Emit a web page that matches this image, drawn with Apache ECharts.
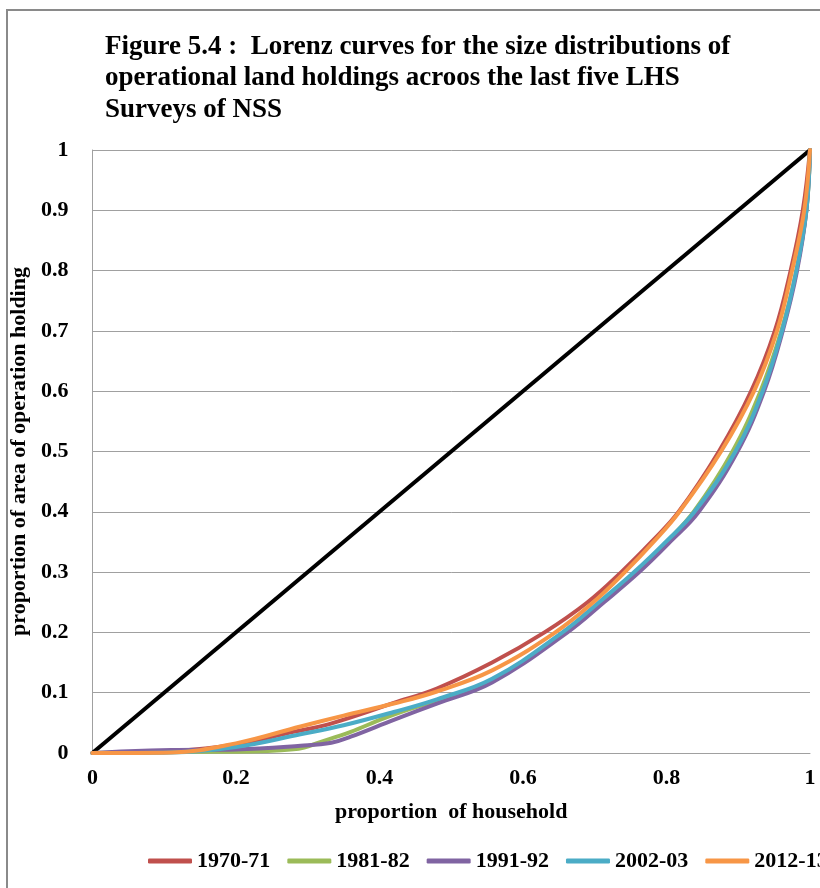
<!DOCTYPE html>
<html>
<head>
<meta charset="utf-8">
<script src="https://cdn.jsdelivr.net/npm/echarts@6/dist/echarts.min.js"></script>
<style>
html,body{margin:0;padding:0;overflow:hidden;background:#fff;}
#c{width:860px;height:888px;}
</style>
</head>
<body>
<div id="c"></div>
<script>
const titleText = 'Figure 5.4 :  Lorenz curves for the size distributions of\noperational land holdings acroos the last five LHS\nSurveys of NSS';
const xAxisName = 'proportion  of household';
const yAxisName = 'proportion of area of operation holding';
const seriesNames = ['1970-71', '1981-82', '1991-92', '2002-03', '2012-13'];

const equality = [[0, 0], [1, 1]];
const d1970 = [[0,0],[0.11,0.003],[0.2,0.014],[0.28,0.035],[0.33,0.048],[0.42,0.083],[0.48,0.107],[0.557,0.15],[0.63,0.2],[0.69,0.25],[0.737,0.30],[0.779,0.35],[0.817,0.40],[0.873,0.50],[0.918,0.60],[0.951,0.70],[0.973,0.80],[0.99,0.90],[1,1]];
const d1981 = [[0,0],[0.11,0.002],[0.2,0.002],[0.28,0.006],[0.33,0.023],[0.36,0.035],[0.405,0.057],[0.44,0.072],[0.48,0.087],[0.557,0.12],[0.66,0.2],[0.71,0.25],[0.758,0.30],[0.8,0.35],[0.838,0.40],[0.892,0.50],[0.931,0.60],[0.96,0.70],[0.981,0.80],[0.995,0.90],[1,1]];
const d1991 = [[0,0],[0.05,0.003],[0.11,0.005],[0.2,0.006],[0.29,0.012],[0.333,0.017],[0.36,0.027],[0.42,0.055],[0.48,0.082],[0.557,0.117],[0.662,0.2],[0.713,0.25],[0.762,0.30],[0.805,0.35],[0.845,0.40],[0.899,0.50],[0.936,0.60],[0.962,0.70],[0.982,0.80],[0.995,0.90],[1,1]];
const d2002 = [[0,0],[0.11,0.001],[0.2,0.01],[0.29,0.031],[0.35,0.046],[0.42,0.068],[0.48,0.089],[0.557,0.123],[0.655,0.2],[0.706,0.25],[0.755,0.30],[0.799,0.35],[0.839,0.40],[0.896,0.50],[0.934,0.60],[0.961,0.70],[0.981,0.80],[0.995,0.90],[1,1]];
const d2012 = [[0,0],[0.11,0.001],[0.2,0.016],[0.29,0.044],[0.35,0.062],[0.42,0.082],[0.48,0.102],[0.557,0.137],[0.645,0.2],[0.698,0.25],[0.742,0.30],[0.782,0.35],[0.818,0.40],[0.876,0.50],[0.922,0.60],[0.954,0.70],[0.975,0.80],[0.992,0.90],[1,1]];

const seriesData = [d1970, d1981, d1991, d2002, d2012];
const colors = ['#C0504D', '#9BBB59', '#8064A2', '#4BACC6', '#F79646'];
const FONT = '"Liberation Serif", "Times New Roman", serif';

const chart = echarts.init(document.getElementById('c'), null, {renderer: 'canvas'});

const series = [{
  name: 'equality',
  type: 'line',
  data: equality,
  showSymbol: false,
  lineStyle: {color: '#000', width: 4},
  itemStyle: {color: '#000'},
  z: 2
}];
seriesData.forEach((d, i) => {
  series.push({
    name: seriesNames[i],
    type: 'line',
    data: d,
    smooth: 0.4,
    showSymbol: false,
    lineStyle: {color: colors[i], width: 4, cap: 'round', join: 'round'},
    itemStyle: {color: colors[i]},
    z: 3
  });
});

chart.setOption({
  animation: false,
  backgroundColor: '#fff',
  textStyle: {fontFamily: FONT},
  graphic: [{
    type: 'rect',
    shape: {x: 7, y: 10, width: 2000, height: 2000},
    style: {fill: 'none', stroke: '#8a8a8a', lineWidth: 2},
    silent: true
  }],
  title: {
    text: titleText,
    left: 105,
    top: 31,
    padding: 0,
    textStyle: {fontFamily: FONT, fontWeight: 'bold', fontSize: 27, lineHeight: 31.5, color: '#000'}
  },
  legend: {
    data: seriesNames,
    left: 148,
    top: 850,
    padding: 0,
    icon: 'roundRect',
    itemWidth: 44,
    itemHeight: 5,
    itemGap: 17,
    textStyle: {fontFamily: FONT, fontWeight: 'bold', fontSize: 22, color: '#000'}
  },
  grid: {left: 87, right: 50, top: 150, bottom: 135, containLabel: false},
  xAxis: {
    type: 'value',
    min: 0, max: 1, interval: 0.2,
    name: xAxisName,
    nameLocation: 'middle',
    nameGap: 48,
    nameTextStyle: {fontFamily: FONT, fontWeight: 'bold', fontSize: 22, color: '#000'},
    axisLine: {show: true, lineStyle: {color: '#a0a0a0', width: 1}},
    axisTick: {show: false},
    splitLine: {show: false},
    axisLabel: {fontFamily: FONT, fontWeight: 'bold', fontSize: 22, color: '#000', margin: 14}
  },
  yAxis: {
    type: 'value',
    min: 0, max: 1, interval: 0.1,
    name: yAxisName,
    nameLocation: 'middle',
    nameGap: 38,
    nameRotate: 90,
    nameTextStyle: {fontFamily: FONT, fontWeight: 'bold', fontSize: 22, color: '#000'},
    axisLine: {show: true, lineStyle: {color: '#a0a0a0', width: 1}},
    axisTick: {show: false},
    splitLine: {show: true, lineStyle: {color: '#a0a0a0', width: 1}},
    axisLabel: {fontFamily: FONT, fontWeight: 'bold', fontSize: 22, color: '#000', margin: 24}
  },
  series: series
});
</script>
</body>
</html>
